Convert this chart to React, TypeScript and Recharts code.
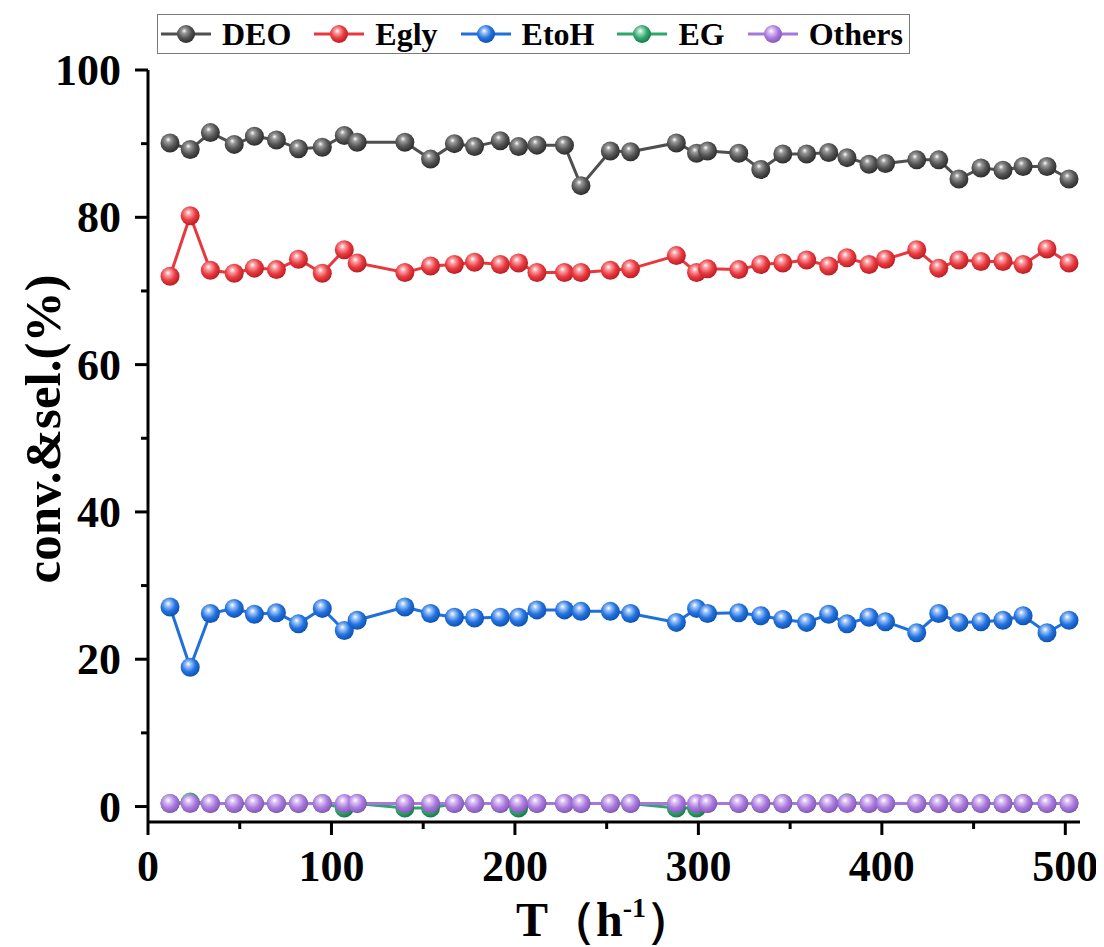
import { Line, LineChart, XAxis, YAxis } from 'recharts';

const T_VALUES = [
  12, 23, 34, 47, 58, 70, 82, 95, 107, 114,
  140, 154, 167, 178, 192, 202, 212, 227, 236, 252,
  263, 288, 299, 305, 322, 334, 346, 359, 371, 381,
  393, 402, 419, 431, 442, 454, 466, 477, 490, 502,
];

const DEO = [
  90.1, 89.2, 91.5, 89.9, 91.0, 90.5, 89.3, 89.5, 91.1, 90.2,
  90.2, 87.9, 90.0, 89.6, 90.4, 89.6, 89.8, 89.8, 84.3, 89.0,
  88.9, 90.1, 88.7, 89.0, 88.7, 86.5, 88.6, 88.6, 88.8, 88.1,
  87.2, 87.3, 87.8, 87.8, 85.2, 86.7, 86.4, 86.9, 86.9, 85.2,
];

const EGLY = [
  72.0, 80.2, 72.8, 72.4, 73.1, 72.9, 74.3, 72.4, 75.6, 73.8,
  72.5, 73.4, 73.6, 73.9, 73.6, 73.8, 72.5, 72.5, 72.5, 72.8,
  73.0, 74.8, 72.5, 73.0, 72.9, 73.6, 73.8, 74.2, 73.4, 74.5,
  73.6, 74.3, 75.6, 73.1, 74.2, 74.0, 74.0, 73.6, 75.7, 73.8,
];

const ETOH = [
  27.1, 18.9, 26.2, 26.9, 26.1, 26.3, 24.8, 26.9, 23.9, 25.3,
  27.1, 26.2, 25.7, 25.6, 25.7, 25.7, 26.7, 26.7, 26.5, 26.5,
  26.2, 25.0, 26.9, 26.2, 26.3, 25.9, 25.4, 25.0, 26.1, 24.8,
  25.7, 25.1, 23.6, 26.2, 25.0, 25.1, 25.3, 25.9, 23.6, 25.3,
];

const EG = [
  0.4, 0.6, 0.4, 0.4, 0.4, 0.4, 0.4, 0.4, -0.2, 0.4,
  -0.2, -0.2, 0.4, 0.4, 0.4, -0.2, 0.4, 0.4, 0.4, 0.4,
  0.4, -0.2, -0.2, 0.4, 0.4, 0.4, 0.4, 0.4, 0.4, 0.5,
  0.4, 0.4, 0.4, 0.4, 0.4, 0.4, 0.4, 0.4, 0.4, 0.4,
];

const OTHERS = [
  0.4, 0.4, 0.4, 0.4, 0.4, 0.4, 0.4, 0.4, 0.4, 0.4,
  0.4, 0.4, 0.4, 0.4, 0.4, 0.4, 0.4, 0.4, 0.4, 0.4,
  0.4, 0.4, 0.4, 0.4, 0.4, 0.4, 0.4, 0.4, 0.4, 0.4,
  0.4, 0.4, 0.4, 0.4, 0.4, 0.4, 0.4, 0.4, 0.4, 0.4,
];

const X_TICKS = [0, 50, 100, 150, 200, 250, 300, 350, 400, 450, 500];
const Y_TICKS = [0, 10, 20, 30, 40, 50, 60, 70, 80, 90, 100];

const SERIES = [
  { key: 'DEO', values: DEO, line: '#4f4f4f', ball: '#555555', dark: '#2a2a2a', light: '#9a9a9a' },
  { key: 'Egly', values: EGLY, line: '#e8383d', ball: '#ea3a40', dark: '#b51d22', light: '#f7a0a3' },
  { key: 'EtoH', values: ETOH, line: '#1f6fdc', ball: '#2373e0', dark: '#0d4fae', light: '#9cc2f5' },
  { key: 'EG', values: EG, line: '#2ea66b', ball: '#30a86d', dark: '#17774a', light: '#a3dcbf' },
  { key: 'Others', values: OTHERS, line: '#a877dc', ball: '#ab7ade', dark: '#8455b8', light: '#dcc4f3' },
];

const rows = T_VALUES.map((t, i) => {
  const row: Record<string, number> = { t };
  for (const s of SERIES) row[s.key] = s.values[i];
  return row;
});

const FONT = '"Liberation Serif", "Times New Roman", serif';
const BALL_R = 9.5;

function Gradients() {
  return (
    <defs>
      {SERIES.map((s) => (
        <radialGradient key={s.key} id={`sph-${s.key}`} cx="0.42" cy="0.4" r="0.62" fx="0.4" fy="0.32">
          <stop offset="0%" stopColor="#ffffff" />
          <stop offset="22%" stopColor={s.light} />
          <stop offset="60%" stopColor={s.ball} />
          <stop offset="100%" stopColor={s.dark} />
        </radialGradient>
      ))}
    </defs>
  );
}

const makeDot = (id: string) => (props: any) => {
  const { cx, cy, index } = props;
  if (cx == null || cy == null) return <g key={`${id}-${index}`} />;
  return <circle key={`${id}-${index}`} cx={cx} cy={cy} r={BALL_R} fill={`url(#sph-${id})`} />;
};

function XTick({ x, y, payload }: any) {
  const major = payload.value % 100 === 0;
  return (
    <g>
      <line x1={x} x2={x} y1={y} y2={y + (major ? 13 : 7)} stroke="#000" strokeWidth={3} />
      {major && (
        <text x={x} y={y + 59} textAnchor="middle" fontFamily={FONT} fontWeight="bold" fontSize={44} fill="#000">
          {payload.value}
        </text>
      )}
    </g>
  );
}

function YTick({ x, y, payload }: any) {
  const major = payload.value % 20 === 0;
  return (
    <g>
      <line x1={x - (major ? 13 : 7)} x2={x} y1={y} y2={y} stroke="#000" strokeWidth={3} />
      {major && (
        <text x={x - 27} y={y + 15} textAnchor="end" fontFamily={FONT} fontWeight="bold" fontSize={44} fill="#000">
          {payload.value}
        </text>
      )}
    </g>
  );
}

function XTitle() {
  return (
    <text x={508} y={928} fontFamily={FONT} fontWeight="bold" fontSize={48} fill="#000">
      T（h
      <tspan fontSize={28} dy={-19}>-1</tspan>
      <tspan dy={19}>）</tspan>
    </text>
  );
}

function YTitle() {
  return (
    <text
      x={52}
      y={421}
      transform="rotate(-90, 52, 421)"
      textAnchor="middle"
      fontFamily={FONT}
      fontWeight="bold"
      fontSize={51}
      fill="#000"
    >
      conv.&amp;sel.(%)
    </text>
  );
}

function ChartLegend() {
  return (
    <div
      style={{
        position: 'absolute',
        left: 149,
        top: 6,
        height: 38,
        border: '1.5px solid #7a7a7a',
        display: 'flex',
        alignItems: 'center',
        paddingLeft: 2,
        paddingRight: 6,
        fontFamily: FONT,
        fontWeight: 'bold',
        fontSize: 32,
        background: '#fff',
      }}
    >
      {SERIES.map((s, i) => (
        <div
          key={s.key}
          style={{ display: 'flex', alignItems: 'center', marginRight: i === SERIES.length - 1 ? 0 : 22 }}
        >
          <svg width={52} height={24} style={{ marginRight: 10 }}>
            <line x1={1} x2={51} y1={12} y2={12} stroke={s.line} strokeWidth={3} />
            <circle cx={26} cy={12} r={9} fill={`url(#sph-${s.key})`} />
          </svg>
          <span style={{ lineHeight: '38px' }}>{s.key}</span>
        </div>
      ))}
    </div>
  );
}

export default function App() {
  return (
    <div style={{ position: 'relative', width: 1096, height: 939 }}>
      <LineChart width={1096} height={939} data={rows} margin={{ top: 62, right: 24, bottom: 0, left: 0 }}>
        <Gradients />
        <XAxis
          dataKey="t"
          type="number"
          domain={[0, 508]}
          ticks={X_TICKS}
          interval={0}
          height={125}
          tickSize={0}
          tickMargin={0}
          tickLine={false}
          axisLine={{ stroke: '#000', strokeWidth: 3 }}
          tick={<XTick />}
          label={<XTitle />}
        />
        <XAxis
          xAxisId="top"
          orientation="top"
          dataKey="t"
          type="number"
          domain={[0, 508]}
          height={0}
          tick={false}
          tickLine={false}
          axisLine={{ stroke: '#000', strokeWidth: 3 }}
        />
        <YAxis
          type="number"
          domain={[-2.1, 100]}
          ticks={Y_TICKS}
          interval={0}
          width={140}
          tickSize={0}
          tickMargin={0}
          tickLine={false}
          axisLine={{ stroke: '#000', strokeWidth: 3 }}
          tick={<YTick />}
          label={<YTitle />}
        />
        <YAxis
          yAxisId="right"
          orientation="right"
          type="number"
          domain={[-2.1, 100]}
          width={0}
          tick={false}
          tickLine={false}
          axisLine={{ stroke: '#000', strokeWidth: 3 }}
        />
        {SERIES.map((s) => (
          <Line
            key={s.key}
            dataKey={s.key}
            type="linear"
            stroke={s.line}
            strokeWidth={3}
            dot={makeDot(s.key)}
            activeDot={false}
            isAnimationActive={false}
          />
        ))}
      </LineChart>
      <ChartLegend />
    </div>
  );
}
